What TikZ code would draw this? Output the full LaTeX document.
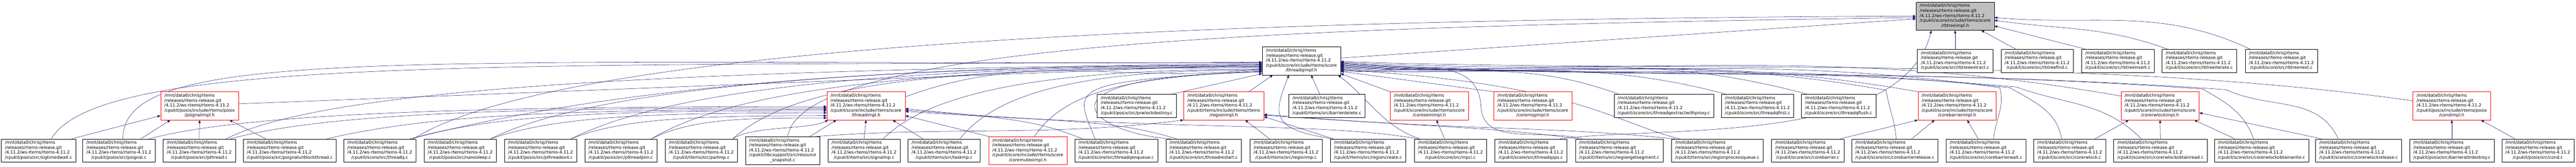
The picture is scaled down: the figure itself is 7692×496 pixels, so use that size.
\documentclass[tikz,border=0pt]{standalone}
\usepackage{fontspec}
\newfontfamily\dgfont{DejaVu Sans}
\usetikzlibrary{positioning,arrows.meta,backgrounds}
\definecolor{edgeblue}{HTML}{191970}
\definecolor{rootgray}{HTML}{BFBFBF}
\newcommand{\rtfile}[1]{\begin{tabular}{@{}l@{}}/mnt/data0/chrisj/rtems\\/releases/rtems-release.git\\/4.11.2/ws-rtems/rtems-4.11.2\\#1\end{tabular}}
\newcommand{\tailln}[1]{\multicolumn{1}{@{}c@{}}{#1}}
\newcommand{\srcfile}[1]{\rtfile{\tailln{#1}}}
\newcommand{\hdrfile}[2]{\rtfile{#1\\\tailln{#2}}}
\begin{document}
\begin{tikzpicture}[x=1pt,y=1pt,node distance=0pt]
	\tikzset{file/.style={draw=black,line width=0.8pt,fill=white,inner xsep=11pt,inner ysep=5pt,font=\dgfont\fontsize{12.7}{14.7}\selectfont},rootfile/.style={file,fill=rootgray},cutfile/.style={file,draw=red},inc/.style={<-,>={Triangle[length=9pt,width=7pt]},draw=edgeblue,line width=0.8pt}}
	\useasboundingbox (0,0) rectangle (7692,496);

	\node[rootfile] (r) at (5838,448) {\hdrfile{/cpukit/score/include/rtems/score}{/rbtreeimpl.h}};
	\node[file] (tq) [below of=r,xshift=-1952pt,yshift=-133pt] {\hdrfile{/cpukit/score/include/rtems/score}{/threadqimpl.h}};
	\node[file] (rbx) [below of=r,yshift=-133pt] {\srcfile{/cpukit/score/src/rbtreeextract.c}};
	\node[file] (rbf) [right of=rbx,xshift=245pt] {\srcfile{/cpukit/score/src/rbtreefind.c}};
	\node[file] (rbi) [right of=rbf,xshift=241pt] {\srcfile{/cpukit/score/src/rbtreeinsert.c}};
	\node[file] (rbt) [right of=rbi,xshift=243pt] {\srcfile{/cpukit/score/src/rbtreeiterate.c}};
	\node[file] (rbn) [right of=rbt,xshift=245pt] {\srcfile{/cpukit/score/src/rbtreenext.c}};

	\node[cutfile] (psi) [below of=tq,xshift=-3290pt,yshift=-134pt] {\hdrfile{/cpukit/posix/include/rtems/posix}{/psignalimpl.h}};
	\node[cutfile] (thi) [right of=psi,xshift=1990pt] {\hdrfile{/cpukit/score/include/rtems/score}{/threadimpl.h}};
	\node[file] (prw) [right of=thi,xshift=808pt] {\srcfile{/cpukit/posix/src/prwlockdestroy.c}};
	\node[cutfile] (rgi) [right of=prw,xshift=260pt] {\hdrfile{/cpukit/rtems/include/rtems/rtems}{/regionimpl.h}};
	\node[file] (bdl) [right of=rgi,xshift=308pt] {\srcfile{/cpukit/rtems/src/barrierdelete.c}};
	\node[cutfile] (smi) [right of=bdl,xshift=306pt] {\hdrfile{/cpukit/score/include/rtems/score}{/coresemimpl.h}};
	\node[cutfile] (mgi) [right of=smi,xshift=309pt] {\hdrfile{/cpukit/score/include/rtems/score}{/coremsgimpl.h}};
	\node[file] (tqx) [right of=mgi,xshift=391pt] {\srcfile{/cpukit/score/src/threadqextractwithproxy.c}};
	\node[file] (tqf) [right of=tqx,xshift=280pt] {\srcfile{/cpukit/score/src/threadqfirst.c}};
	\node[file] (tqh) [right of=tqf,xshift=242pt] {\srcfile{/cpukit/score/src/threadqflush.c}};
	\node[cutfile] (bri) [right of=tqh,xshift=354pt] {\hdrfile{/cpukit/score/include/rtems/score}{/corebarrierimpl.h}};
	\node[cutfile] (rwi) [right of=bri,xshift=606pt] {\hdrfile{/cpukit/score/include/rtems/score}{/corerwlockimpl.h}};
	\node[cutfile] (cdi) [right of=rwi,xshift=871pt] {\hdrfile{/cpukit/posix/include/rtems/posix}{/condimpl.h}};

	\node[file] (stw) [below of=psi,xshift=-481pt,yshift=-133pt] {\srcfile{/cpukit/posix/src/sigtimedwait.c}};
	\node[file] (psg) [right of=stw,xshift=240pt] {\srcfile{/cpukit/posix/src/psignal.c}};
	\node[file] (pth) [right of=psg,xshift=240pt] {\srcfile{/cpukit/posix/src/pthread.c}};
	\node[file] (pub) [right of=pth,xshift=270pt] {\srcfile{/cpukit/posix/src/psignalunblockthread.c}};
	\node[file] (thq) [right of=pub,xshift=269pt] {\srcfile{/cpukit/score/src/threadq.c}};
	\node[file] (nsl) [right of=thq,xshift=240pt] {\srcfile{/cpukit/posix/src/nanosleep.c}};
	\node[file] (pex) [right of=nsl,xshift=240pt] {\srcfile{/cpukit/posix/src/pthreadexit.c}};
	\node[file] (pjn) [right of=pex,xshift=240pt] {\srcfile{/cpukit/posix/src/pthreadjoin.c}};
	\node[file] (ptm) [right of=pjn,xshift=240pt] {\srcfile{/cpukit/rtems/src/partmp.c}};
	\node[file] (rss) [right of=ptm,xshift=243pt] {\hdrfile{/cpukit/libcsupport/src/resource}{\_snapshot.c}};
	\node[file] (sgm) [right of=rss,xshift=243pt] {\srcfile{/cpukit/rtems/src/signalmp.c}};
	\node[file] (tkm) [right of=sgm,xshift=239pt] {\srcfile{/cpukit/rtems/src/taskmp.c}};
	\node[cutfile] (mxi) [right of=tkm,xshift=250pt] {\hdrfile{/cpukit/score/include/rtems/score}{/coremuteximpl.h}};
	\node[file] (tqe) [right of=mxi,xshift=264pt] {\srcfile{/cpukit/score/src/threadqenqueue.c}};
	\node[file] (trs) [right of=tqe,xshift=261pt] {\srcfile{/cpukit/score/src/threadrestart.c}};
	\node[file] (rgm) [right of=trs,xshift=246pt] {\srcfile{/cpukit/rtems/src/regionmp.c}};
	\node[file] (rgc) [right of=rgm,xshift=245pt] {\srcfile{/cpukit/rtems/src/regioncreate.c}};
	\node[file] (mpc) [right of=rgc,xshift=246pt] {\srcfile{/cpukit/score/src/mpci.c}};
	\node[file] (tqo) [right of=mpc,xshift=240pt] {\srcfile{/cpukit/score/src/threadqops.c}};
	\node[file] (rgs) [right of=tqo,xshift=264pt] {\srcfile{/cpukit/rtems/src/regiongetsegment.c}};
	\node[file] (rgp) [right of=rgs,xshift=293pt] {\srcfile{/cpukit/rtems/src/regionprocessqueue.c}};
	\node[file] (cb0) [right of=rgp,xshift=270pt] {\srcfile{/cpukit/score/src/corebarrier.c}};
	\node[file] (cbr) [right of=cb0,xshift=260pt] {\srcfile{/cpukit/score/src/corebarrierrelease.c}};
	\node[file] (cbw) [right of=cbr,xshift=272pt] {\srcfile{/cpukit/score/src/corebarrierwait.c}};
	\node[file] (rw0) [right of=cbw,xshift=250pt] {\srcfile{/cpukit/score/src/corerwlock.c}};
	\node[file] (rwr) [right of=rw0,xshift=271pt] {\srcfile{/cpukit/score/src/corerwlockobtainread.c}};
	\node[file] (rww) [right of=rwr,xshift=302pt] {\srcfile{/cpukit/score/src/corerwlockobtainwrite.c}};
	\node[file] (rwl) [right of=rww,xshift=290pt] {\srcfile{/cpukit/score/src/corerwlockrelease.c}};
	\node[file] (bad) [right of=rwl,xshift=278pt] {\srcfile{/cpukit/posix/src/barrierattrdestroy.c}};
	\node[file] (cnd) [right of=bad,xshift=257pt] {\srcfile{/cpukit/posix/src/cond.c}};

	\begin{scope}[on background layer]
	\draw[inc] (r.184) -- (tq.4);
	\draw[inc] (r) -- (rbx);
	\draw[inc] (r) -- (rbf);
	\draw[inc] (r.-14) -- ([xshift=12pt]rbi.north west);
	\draw[inc] (r.-6) .. controls +(203,-29) and +(-193,70) .. ([xshift=-95pt]rbt.north);
	\draw[inc] (r.-2) .. controls +(299,-26) and +(-272,127) .. ([xshift=-93pt]rbn.north);
	\draw[inc] (r.180) .. controls +(-2500,-10) and +(400,250) .. ([xshift=-8pt]thq.north east);
	\draw[inc] (r.182) .. controls +(-1722,-26) and +(48,290) .. ([xshift=15pt]rss.north);
	\draw[inc] ([xshift=-71pt]r.south) .. controls +(-87,-346) and +(300,40) .. ([xshift=-21pt]tqo.north east);

	\draw[inc] (tq.182) .. controls +(-2270,-11) and +(147,247) .. ([xshift=38pt]stw.north);
	\draw[inc] (tq.183) .. controls +(-2570,-4) and +(-2,277) .. ([xshift=12pt]psg.north);
	\draw[inc] (tq.184) .. controls +(-1800,-20) and +(300,150) .. ([xshift=80pt]pth.north);
	\draw[inc] (tq.185) -- ([yshift=6pt]psi.east);
	\draw[inc] (tq.186) .. controls +(-1500,0) and +(400,100) .. ([xshift=-17pt]thq.north east);
	\draw[inc] (tq.187) .. controls +(-1200,0) and +(300,150) .. ([xshift=91pt]nsl.north);
	\draw[inc] (tq.188) .. controls +(-1100,0) and +(300,150) .. ([xshift=91pt]pex.north);
	\draw[inc] (tq.189) .. controls +(-1000,0) and +(250,150) .. ([xshift=91pt]pjn.north);
	\draw[inc] (tq.190) .. controls +(-900,0) and +(200,180) .. ([xshift=94pt]ptm.north);
	\draw[inc] (tq.191) .. controls +(-417,-51) and +(395,144) .. ([yshift=27pt]thi.east);
	\draw[inc] (tq.192) .. controls +(-600,0) and +(150,150) .. ([xshift=57pt]sgm.north);
	\draw[inc] (tq.193) .. controls +(-500,0) and +(120,150) .. ([xshift=47pt]tkm.north);
	\draw[inc] (tq.194) .. controls +(-350,-20) and +(100,150) .. ([xshift=20pt]mxi.north);
	\draw[inc] (tq.195) .. controls +(-600,-30) and +(-60,150) .. ([xshift=-63pt]tqe.north);
	\draw[inc] (tq.196) .. controls +(-720,-12) and +(-246,17) .. ([xshift=-98pt]trs.north);
	\draw[inc] (tq.198) -- ([xshift=-14pt]prw.north east);

	\draw[inc] (tq.-1) .. controls +(1000,-35) and +(-990,139) .. ([yshift=-27pt]cdi.north west);
	\draw[inc] (tq.-2) .. controls +(899,-47) and +(-886,156) .. ([yshift=-13pt]rwi.north west);
	\draw[inc] (tq.-3) .. controls +(678,-47) and +(-670,118) .. (bri.north west);
	\draw[inc] (tq.-4) .. controls +(999,-52) and +(-998,70) .. ([xshift=80pt,yshift=6pt]rwi.north east) .. controls +(130,-60) and +(-60,130) .. ([xshift=-61pt]rwl.north);
	\draw[inc] (tq.-5) .. controls +(999,-52) and +(-998,70) .. ([xshift=10pt,yshift=8pt]rwi.north east) .. controls +(72,-41) and +(-28,78) .. ([xshift=-24pt]rww.north);
	\draw[inc] (tq.-6) .. controls +(779,-41) and +(-777,68) .. ([xshift=60pt,yshift=14pt]bri.north east) .. controls +(148,-54) and +(-112,112) .. ([xshift=-57pt]rwr.north);
	\draw[inc] (tq.-7) .. controls +(779,-41) and +(-776,82) .. ([xshift=40pt,yshift=12pt]bri.north east) .. controls +(74,-43) and +(-15,84) .. ([xshift=-24pt]rw0.north);
	\draw[inc] (tq.-8) .. controls +(770,-40) and +(-763,107) .. ([xshift=10pt,yshift=12pt]bri.north east) .. controls +(16,-58) and +(5,60) .. ([xshift=23pt]cbw.north);
	\draw[inc] (tq.-9) .. controls +(639,-33) and +(-630,111) .. ([xshift=30pt,yshift=12pt]tqh.north east) .. controls +(10,-57) and +(-5,58) .. ([xshift=4pt]cbr.north);
	\draw[inc] (tq.-10) .. controls +(544,-29) and +(-526,141) .. ([xshift=18pt]tqh.north west);
	\draw[inc] (tq.-11) .. controls +(449,-31) and +(-435,116) .. ([xshift=14pt]tqf.north west);
	\draw[inc] (tq.-12) .. controls +(326,-28) and +(-307,112) .. ([xshift=14pt]tqx.north west);
	\draw[inc] (tq.-13) .. controls +(700,-40) and +(-200,50) .. ([xshift=25pt]rgp.north west);
	\draw[inc] (tq.-14) .. controls +(169,-15) and +(-15,169) .. ([xshift=37pt,yshift=-40pt]smi.north east) .. controls +(0,-125) and +(-121,32) .. ([xshift=21pt]rgs.north west);
	\draw[inc] (tq.-15) -- (mgi.north west);
	\draw[inc] (tq.-18) -- (smi.north west);

	\draw[inc] ([xshift=32pt]tq.south west) -- ([xshift=-45pt]rgi.north east);
	\draw[inc] ([xshift=80pt]tq.south west) .. controls +(-50,-123) and +(-182,27) .. ([xshift=9pt]rgc.north west);
	\draw[inc] ([xshift=146pt]tq.south west) -- ([xshift=-21pt]bdl.north);
	\draw[inc] ([xshift=-8pt]tq.south east) .. controls +(95,-73) and +(-110,37) .. ([xshift=17pt]mpc.north west);

	\draw[inc] (thi.181) .. controls +(-1000,0) and +(300,80) .. ([xshift=90pt]psg.north);
	\draw[inc] (thi.183) .. controls +(-900,0) and +(300,80) .. ([xshift=92pt]pth.north);
	\draw[inc] (thi.185) .. controls +(-800,0) and +(300,70) .. ([xshift=110pt]pub.north);
	\draw[inc] (thi.187) .. controls +(-700,0) and +(250,70) .. ([xshift=-17pt]thq.north east);
	\draw[inc] (thi.190) .. controls +(-500,0) and +(200,70) .. ([xshift=91pt]nsl.north);
	\draw[inc] (thi.194) .. controls +(-400,0) and +(150,60) .. ([xshift=91pt]pex.north);
	\draw[inc] (thi.197) .. controls +(-250,0) and +(120,60) .. ([xshift=91pt]pjn.north);
	\draw[inc] ([xshift=4pt]thi.south west) .. controls +(-60,-30) and +(60,40) .. ([xshift=94pt]ptm.north);
	\draw[inc] ([xshift=29pt]thi.south west) -- ([xshift=-30pt]rss.north east);
	\draw[inc] (thi.south) -- (sgm.north);
	\draw[inc] ([xshift=-38pt]thi.south east) -- ([xshift=46pt]tkm.north west);
	\draw[inc] (thi.-14) -- (mxi.north west);
	\draw[inc] (thi.-4) .. controls +(300,-30) and +(-150,60) .. ([xshift=-100pt]tqe.north);
	\draw[inc] (thi.-6) .. controls +(500,-40) and +(-200,60) .. ([xshift=-80pt]trs.north);
	\draw[inc] (thi.-8) .. controls +(900,-60) and +(-300,50) .. ([xshift=-95pt]mpc.north);

	\draw[inc] (psi.194) -- ([xshift=-13pt]stw.north east);
	\draw[inc] ([xshift=-87pt]psi.south) -- ([xshift=65pt]psg.north);
	\draw[inc] (psi.south) -- (pth.north);
	\draw[inc] ([xshift=89pt]psi.south) -- ([xshift=-71pt]pub.north);

	\draw[inc] ([xshift=64pt]rgi.south) -- ([xshift=-49pt]rgm.north);
	\draw[inc] (rgi.-15) -- ([xshift=9pt]rgc.north west);
	\draw[inc] (rgi.-12) .. controls +(500,-40) and +(-300,40) .. ([xshift=10pt]rgs.north west);
	\draw[inc] (rgi.-13) .. controls +(700,-50) and +(-400,40) .. ([xshift=10pt]rgp.north west);
	\draw[inc] (rgi.south west) .. controls +(-400,-50) and +(400,30) .. ([xshift=-10pt]rss.north east);

	\draw[inc] ([xshift=21pt]smi.south) -- ([xshift=-17pt]mpc.north);

	\draw[inc] (bri.south west) -- ([xshift=96pt]cb0.north);
	\draw[inc] ([xshift=-67pt]bri.south) -- ([xshift=50pt]cbr.north);
	\draw[inc] ([xshift=30pt]bri.south) -- ([xshift=-23pt]cbw.north);

	\draw[inc] ([xshift=24pt]rwi.south west) -- ([xshift=-33pt]rw0.north east);
	\draw[inc] (rwi.south) -- (rwr.north);
	\draw[inc] ([xshift=102pt]rwi.south) -- ([xshift=-79pt]rww.north);
	\draw[inc] (rwi.-10) -- ([xshift=-110pt]rwl.north);

	\draw[inc] (cdi.south) -- (bad.north);
	\draw[inc] ([xshift=87pt]cdi.south) -- ([xshift=-68pt]cnd.north);
	\end{scope}
\end{tikzpicture}
\end{document}
